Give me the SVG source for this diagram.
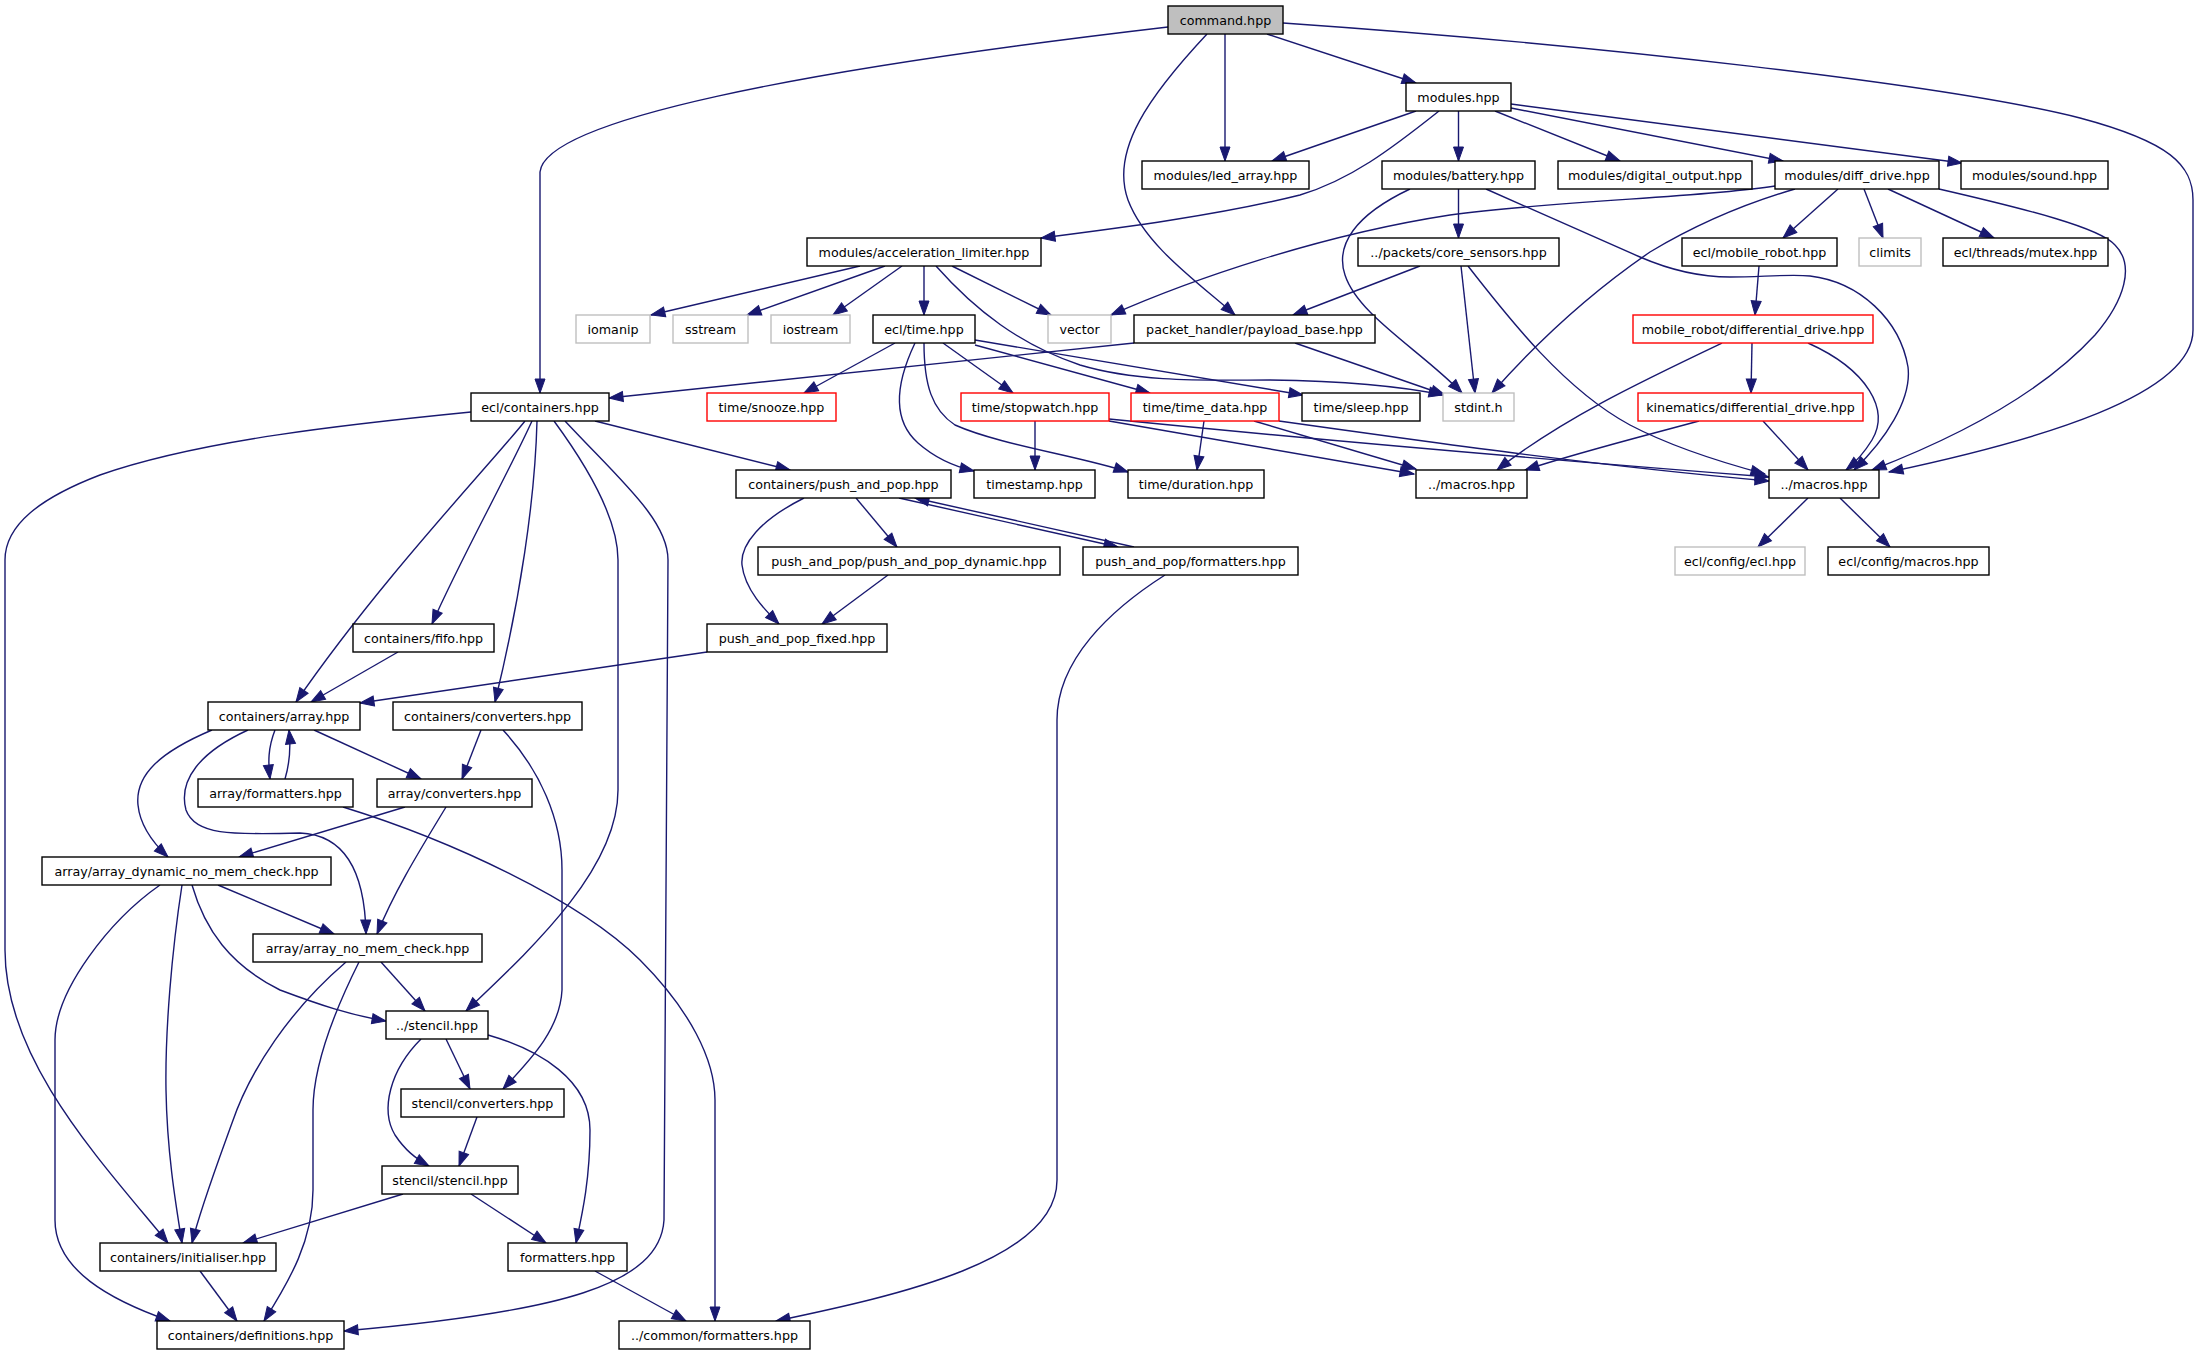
<svg xmlns="http://www.w3.org/2000/svg" width="2207" height="1355" viewBox="0 0 2207 1355">
<style>
.n rect{fill:#fff;stroke:#000;stroke-width:1.4}
.g rect{fill:#fff;stroke:#bfbfbf;stroke-width:1.4}
.r rect{fill:#fff;stroke:#ff0000;stroke-width:1.4}
.root rect{fill:#bfbfbf;stroke:#000;stroke-width:1.4}
text{font-family:"DejaVu Sans","Liberation Sans",sans-serif;font-size:12.7px;fill:#000;text-anchor:middle}
#edges path{fill:none;stroke:#191970;stroke-width:1.4;marker-end:url(#a)}
</style>
<defs>
<marker id="a" markerWidth="16" markerHeight="12" refX="14" refY="5.5" orient="auto" markerUnits="userSpaceOnUse" overflow="visible">
<path d="M0,0.5 L14,5.5 L0,10.5 Z" fill="#191970" stroke="#191970" stroke-width="1"/>
</marker>
</defs>
<rect width="2207" height="1355" fill="#fff"/>
<g id="edges">
<path d="M1168,27 C800,70 545,120 540,172 L540,393"/>
<path d="M1225,34 L1225,161"/>
<path d="M1267,34 L1416,83"/>
<path d="M1207,34 C1150,95 1110,150 1128,200 C1145,245 1195,280 1235,315"/>
<path d="M1283,23 C1600,45 1950,85 2080,118 C2170,142 2193,165 2193,200 L2193,330 C2193,395 2040,440 1889,472"/>
<path d="M1416,111 L1272,161"/>
<path d="M1439,111 C1390,150 1350,180 1300,195 C1220,215 1120,228 1041,238"/>
<path d="M1458.5,111 L1458.5,161"/>
<path d="M1495,111 L1620,161"/>
<path d="M1511,108 L1783,161"/>
<path d="M1511,104 L1962,163"/>
<path d="M1458.5,189 L1458.5,238"/>
<path d="M1410,189 C1355,215 1335,245 1345,275 C1358,315 1420,350 1462,393"/>
<path d="M1486,189 L1640,257 C1670,270 1700,277 1730,277 C1760,277 1790,274 1810,276 C1860,282 1900,320 1908,367 C1912,400 1885,440 1854,470"/>
<path d="M1775,186 C1700,198 1560,200 1450,215 C1320,235 1190,280 1111,315"/>
<path d="M1795,189 C1740,205 1690,228 1650,252 C1580,300 1530,350 1492,393"/>
<path d="M1838,189 L1783,238"/>
<path d="M1864,189 L1883,238"/>
<path d="M1888,189 L1994,238"/>
<path d="M1939,189 C2030,210 2100,228 2115,245 C2135,265 2125,300 2095,335 C2040,395 1950,440 1872,470"/>
<path d="M860,266 L651,315"/>
<path d="M885,266 L747,315"/>
<path d="M902,266 L833,315"/>
<path d="M924,266 L924,315"/>
<path d="M952,266 L1051,315"/>
<path d="M936,266 C975,310 1020,345 1080,365 C1140,383 1210,380 1270,380 C1340,381 1400,386 1443,395"/>
<path d="M895,343 L804,393"/>
<path d="M943,343 L1013,393"/>
<path d="M975,345 L1150,393"/>
<path d="M975,340 L1303,395"/>
<path d="M915,343 C895,385 892,420 918,443 C935,458 952,466 974,471"/>
<path d="M924,343 C924,385 932,410 955,425 C1000,445 1080,456 1128,472"/>
<path d="M1035,421 L1035,470"/>
<path d="M1109,421 L1414,474"/>
<path d="M1109,419 C1300,438 1550,460 1769,477"/>
<path d="M1204,421 L1197,470"/>
<path d="M1254,421 L1416,469"/>
<path d="M1279,421 C1450,445 1600,466 1769,481"/>
<path d="M1134,343 L609,398"/>
<path d="M1295,343 L1445,395"/>
<path d="M1420,266 L1293,315"/>
<path d="M1461,266 L1475,393"/>
<path d="M1468,266 C1510,320 1565,390 1630,425 C1670,446 1720,462 1765,474"/>
<path d="M1759,266 L1755,315"/>
<path d="M1752,343 L1751,393"/>
<path d="M1722,343 C1640,382 1560,420 1497,470"/>
<path d="M1808,343 C1868,370 1890,410 1872,440 C1864,453 1856,462 1846,470"/>
<path d="M1699,421 C1640,437 1580,452 1525,470"/>
<path d="M1763,421 L1808,470"/>
<path d="M1808,498 L1758,547"/>
<path d="M1840,498 L1890,547"/>
<path d="M471,412 C350,424 200,440 100,475 C40,498 5,525 5,560 L5,950 C5,1060 100,1160 168,1243"/>
<path d="M525,421 C490,465 380,580 296,702"/>
<path d="M532,421 C505,480 460,560 432,624"/>
<path d="M537,421 C535,500 520,600 495,702"/>
<path d="M554,421 C590,470 618,520 618,560 L618,790 C618,870 530,950 466,1011"/>
<path d="M565,421 C620,480 668,520 668,560 L664,1220 C660,1285 560,1312 344,1331"/>
<path d="M595,421 L790,470"/>
<path d="M856,498 L897,547"/>
<path d="M804,498 C760,520 740,545 742,565 C745,590 765,610 779,624"/>
<path d="M899,498 L1118,547"/>
<path d="M1134,547 L915,498"/>
<path d="M888,575 L822,624"/>
<path d="M707,652 L360,703"/>
<path d="M1165,575 C1110,610 1057,660 1057,720 L1057,1180 C1057,1260 900,1295 776,1321"/>
<path d="M398,652 L311,702"/>
<path d="M275,730 C268,748 268,762 270,779"/>
<path d="M285,779 C290,762 291,748 289,730"/>
<path d="M314,730 L421,779"/>
<path d="M212,730 C160,752 135,775 138,805 C140,825 152,842 168,857"/>
<path d="M248,730 C200,752 178,780 186,810 C195,835 230,835 300,833 C350,835 365,880 366,934"/>
<path d="M343,807 C450,840 580,900 640,960 C690,1010 715,1060 715,1100 L715,1321"/>
<path d="M481,730 L462,779"/>
<path d="M503,730 C540,770 562,820 562,870 L562,990 C560,1030 530,1060 503,1089"/>
<path d="M405,807 L239,857"/>
<path d="M446,807 C420,850 395,890 377,934"/>
<path d="M218,885 L334,934"/>
<path d="M192,885 C205,930 230,965 280,990 C320,1005 350,1015 386,1021"/>
<path d="M182,885 C172,950 165,1030 166,1090 C167,1150 175,1200 182,1243"/>
<path d="M160,885 C110,920 55,990 55,1040 L55,1220 C55,1270 110,1300 170,1321"/>
<path d="M381,962 L425,1011"/>
<path d="M346,962 C290,1010 250,1070 232,1123 C215,1170 200,1210 192,1243"/>
<path d="M359,962 C330,1020 313,1070 313,1110 L313,1190 C313,1240 290,1280 264,1321"/>
<path d="M446,1039 L470,1089"/>
<path d="M421,1039 C390,1070 380,1110 395,1135 C405,1150 415,1158 429,1166"/>
<path d="M488,1035 C540,1050 590,1080 590,1130 C590,1180 582,1215 576,1243"/>
<path d="M477,1117 L459,1166"/>
<path d="M403,1194 L243,1243"/>
<path d="M471,1194 L546,1243"/>
<path d="M200,1271 L237,1321"/>
<path d="M595,1271 L686,1321"/>
</g>
<g id="cmd" class="root"><rect x="1168" y="6" width="115" height="28"/><text x="1225.5" y="24.5">command.hpp</text></g>
<g id="mod" class="n"><rect x="1406" y="83" width="105" height="28"/><text x="1458.5" y="101.5">modules.hpp</text></g>
<g id="led" class="n"><rect x="1142" y="161" width="167" height="28"/><text x="1225.5" y="179.5">modules/led_array.hpp</text></g>
<g id="bat" class="n"><rect x="1382" y="161" width="153" height="28"/><text x="1458.5" y="179.5">modules/battery.hpp</text></g>
<g id="dig" class="n"><rect x="1558" y="161" width="194" height="28"/><text x="1655" y="179.5">modules/digital_output.hpp</text></g>
<g id="diff" class="n"><rect x="1775" y="161" width="164" height="28"/><text x="1857" y="179.5">modules/diff_drive.hpp</text></g>
<g id="sound" class="n"><rect x="1961" y="161" width="147" height="28"/><text x="2034.5" y="179.5">modules/sound.hpp</text></g>
<g id="acc" class="n"><rect x="807" y="238" width="234" height="28"/><text x="924" y="256.5">modules/acceleration_limiter.hpp</text></g>
<g id="core" class="n"><rect x="1358" y="238" width="201" height="28"/><text x="1458.5" y="256.5">../packets/core_sensors.hpp</text></g>
<g id="mob" class="n"><rect x="1682" y="238" width="155" height="28"/><text x="1759.5" y="256.5">ecl/mobile_robot.hpp</text></g>
<g id="climits" class="g"><rect x="1859" y="238" width="62" height="28"/><text x="1890" y="256.5">climits</text></g>
<g id="mutex" class="n"><rect x="1943" y="238" width="165" height="28"/><text x="2025.5" y="256.5">ecl/threads/mutex.hpp</text></g>
<g id="iomanip" class="g"><rect x="576" y="315" width="74" height="28"/><text x="613" y="333.5">iomanip</text></g>
<g id="sstream" class="g"><rect x="673" y="315" width="75" height="28"/><text x="710.5" y="333.5">sstream</text></g>
<g id="iostream" class="g"><rect x="771" y="315" width="79" height="28"/><text x="810.5" y="333.5">iostream</text></g>
<g id="time" class="n"><rect x="873" y="315" width="102" height="28"/><text x="924" y="333.5">ecl/time.hpp</text></g>
<g id="vector" class="g"><rect x="1048" y="315" width="63" height="28"/><text x="1079.5" y="333.5">vector</text></g>
<g id="payload" class="n"><rect x="1134" y="315" width="241" height="28"/><text x="1254.5" y="333.5">packet_handler/payload_base.hpp</text></g>
<g id="mrdd" class="r"><rect x="1633" y="315" width="240" height="28"/><text x="1753" y="333.5">mobile_robot/differential_drive.hpp</text></g>
<g id="containers" class="n"><rect x="471" y="393" width="138" height="28"/><text x="540" y="411.5">ecl/containers.hpp</text></g>
<g id="snooze" class="r"><rect x="707" y="393" width="129" height="28"/><text x="771.5" y="411.5">time/snooze.hpp</text></g>
<g id="stopwatch" class="r"><rect x="961" y="393" width="148" height="28"/><text x="1035" y="411.5">time/stopwatch.hpp</text></g>
<g id="timedata" class="r"><rect x="1131" y="393" width="148" height="28"/><text x="1205" y="411.5">time/time_data.hpp</text></g>
<g id="sleep" class="n"><rect x="1302" y="393" width="118" height="28"/><text x="1361" y="411.5">time/sleep.hpp</text></g>
<g id="stdint" class="g"><rect x="1443" y="393" width="71" height="28"/><text x="1478.5" y="411.5">stdint.h</text></g>
<g id="kdd" class="r"><rect x="1638" y="393" width="225" height="28"/><text x="1750.5" y="411.5">kinematics/differential_drive.hpp</text></g>
<g id="pap" class="n"><rect x="736" y="470" width="215" height="28"/><text x="843.5" y="488.5">containers/push_and_pop.hpp</text></g>
<g id="timestamp" class="n"><rect x="974" y="470" width="121" height="28"/><text x="1034.5" y="488.5">timestamp.hpp</text></g>
<g id="duration" class="n"><rect x="1128" y="470" width="136" height="28"/><text x="1196" y="488.5">time/duration.hpp</text></g>
<g id="macros1" class="n"><rect x="1416" y="470" width="111" height="28"/><text x="1471.5" y="488.5">../macros.hpp</text></g>
<g id="macros2" class="n"><rect x="1769" y="470" width="110" height="28"/><text x="1824" y="488.5">../macros.hpp</text></g>
<g id="papdyn" class="n"><rect x="758" y="547" width="302" height="28"/><text x="909" y="565.5">push_and_pop/push_and_pop_dynamic.hpp</text></g>
<g id="papfmt" class="n"><rect x="1083" y="547" width="215" height="28"/><text x="1190.5" y="565.5">push_and_pop/formatters.hpp</text></g>
<g id="cfgecl" class="g"><rect x="1675" y="547" width="130" height="28"/><text x="1740" y="565.5">ecl/config/ecl.hpp</text></g>
<g id="cfgmac" class="n"><rect x="1828" y="547" width="161" height="28"/><text x="1908.5" y="565.5">ecl/config/macros.hpp</text></g>
<g id="fifo" class="n"><rect x="353" y="624" width="141" height="28"/><text x="423.5" y="642.5">containers/fifo.hpp</text></g>
<g id="papfixed" class="n"><rect x="707" y="624" width="180" height="28"/><text x="797" y="642.5">push_and_pop_fixed.hpp</text></g>
<g id="array" class="n"><rect x="208" y="702" width="152" height="28"/><text x="284" y="720.5">containers/array.hpp</text></g>
<g id="cconv" class="n"><rect x="393" y="702" width="189" height="28"/><text x="487.5" y="720.5">containers/converters.hpp</text></g>
<g id="afmt" class="n"><rect x="198" y="779" width="155" height="28"/><text x="275.5" y="797.5">array/formatters.hpp</text></g>
<g id="aconv" class="n"><rect x="377" y="779" width="155" height="28"/><text x="454.5" y="797.5">array/converters.hpp</text></g>
<g id="adyn" class="n"><rect x="42" y="857" width="289" height="28"/><text x="186.5" y="875.5">array/array_dynamic_no_mem_check.hpp</text></g>
<g id="anomem" class="n"><rect x="253" y="934" width="229" height="28"/><text x="367.5" y="952.5">array/array_no_mem_check.hpp</text></g>
<g id="stencil" class="n"><rect x="386" y="1011" width="102" height="28"/><text x="437" y="1029.5">../stencil.hpp</text></g>
<g id="sconv" class="n"><rect x="401" y="1089" width="163" height="28"/><text x="482.5" y="1107.5">stencil/converters.hpp</text></g>
<g id="sstencil" class="n"><rect x="382" y="1166" width="136" height="28"/><text x="450" y="1184.5">stencil/stencil.hpp</text></g>
<g id="init" class="n"><rect x="100" y="1243" width="176" height="28"/><text x="188" y="1261.5">containers/initialiser.hpp</text></g>
<g id="fmt" class="n"><rect x="508" y="1243" width="119" height="28"/><text x="567.5" y="1261.5">formatters.hpp</text></g>
<g id="defs" class="n"><rect x="157" y="1321" width="187" height="28"/><text x="250.5" y="1339.5">containers/definitions.hpp</text></g>
<g id="cfmt" class="n"><rect x="619" y="1321" width="191" height="28"/><text x="714.5" y="1339.5">../common/formatters.hpp</text></g>
</svg>
